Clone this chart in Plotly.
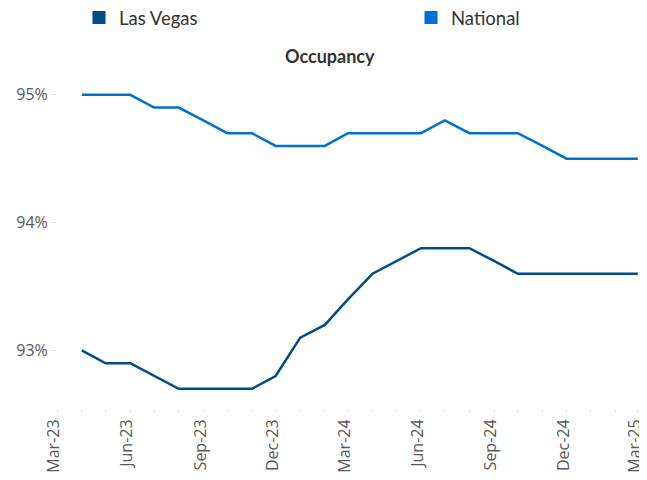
import plotly.graph_objects as go

months = ["2023-04-01", "2023-05-01", "2023-06-01", "2023-07-01", "2023-08-01", "2023-09-01",
          "2023-10-01", "2023-11-01", "2023-12-01", "2024-01-01", "2024-02-01", "2024-03-01",
          "2024-04-01", "2024-05-01", "2024-06-01", "2024-07-01", "2024-08-01", "2024-09-01",
          "2024-10-01", "2024-11-01", "2024-12-01", "2025-01-01", "2025-02-01", "2025-03-01"]
las_vegas = [93.0, 92.9, 92.9, 92.8, 92.7, 92.7, 92.7, 92.7, 92.8, 93.1, 93.2, 93.4,
             93.6, 93.7, 93.8, 93.8, 93.8, 93.7, 93.6, 93.6, 93.6, 93.6, 93.6, 93.6]
national = [95.0, 95.0, 95.0, 94.9, 94.9, 94.8, 94.7, 94.7, 94.6, 94.6, 94.6, 94.7,
            94.7, 94.7, 94.7, 94.8, 94.7, 94.7, 94.7, 94.6, 94.5, 94.5, 94.5, 94.5]
y_ticks = [93, 94, 95]
y_tick_labels = ["93%", "94%", "95%"]

C_LV = "#004C88"
C_NAT = "#0072CE"

# the page body adds an 8px margin, so the figure is drawn 8px in from the top-left
OFF = 8
W, H = 647 - OFF, 480 - 2 * OFF
L, R, T = 57 - OFF, 9, 82 - OFF
B = H - (408 - OFF)
PW, PH = W - L - R, H - T - B

def px_x(p):
    return (p - OFF - L) / PW

def px_y(p):
    return 1 + (T - (p - OFF)) / PH

fig = go.Figure()
fig.add_trace(go.Scatter(x=months, y=las_vegas, mode="lines", line=dict(color=C_LV, width=2.5),
                         showlegend=False, hoverinfo="skip"))
fig.add_trace(go.Scatter(x=months, y=national, mode="lines", line=dict(color=C_NAT, width=2.5),
                         showlegend=False, hoverinfo="skip"))
# legend entries (square swatches)
fig.add_trace(go.Scatter(x=[None], y=[None], mode="markers", name="Las Vegas", legend="legend",
                         marker=dict(symbol="square", size=13, color=C_LV)))
fig.add_trace(go.Scatter(x=[None], y=[None], mode="markers", name="National", legend="legend2",
                         marker=dict(symbol="square", size=13, color=C_NAT)))

leg_common = dict(orientation="h", xanchor="left", yanchor="middle",
                  font=dict(family="Lato", size=18.5, color="#333333"),
                  bgcolor="rgba(0,0,0,0)", borderwidth=0)

fig.update_layout(
    width=W, height=H,
    margin=dict(l=L, r=R, t=T, b=B, autoexpand=False),
    paper_bgcolor="white", plot_bgcolor="white",
    showlegend=True,
    legend=dict(x=px_x(79), y=px_y(18), **leg_common),
    legend2=dict(x=px_x(411), y=px_y(18), **leg_common),
    annotations=[dict(text="<b>Occupancy</b>", xref="paper", yref="paper",
                      x=px_x(330), y=px_y(56),
                      xanchor="center", yanchor="middle", showarrow=False,
                      font=dict(family="Lato", size=18, color="#333333"))],
)

fig.update_xaxes(
    type="date", range=["2023-02-28 18:00", "2025-03-01 06:00"],
    tick0="2023-03-01", dtick="M3", tickformat="%b-%y", tickangle=-90,
    tickfont=dict(family="Open Sans", size=16, color="#595959"),
    ticks="outside", ticklen=4, tickcolor="#e6e6e6",
    minor=dict(dtick="M1", ticks="outside", ticklen=4, tickcolor="#e6e6e6"),
    showgrid=False, showline=False, zeroline=False,
    automargin=False, ticklabeloverflow="allow", ticklabelshift=-3,
)
fig.update_yaxes(
    range=[92.55, 95.1], tickvals=y_ticks, ticktext=y_tick_labels,
    tickfont=dict(family="Open Sans", size=16, color="#595959"),
    ticks="outside", ticklen=5, tickcolor="#e6e6e6",
    showgrid=False, showline=False, zeroline=False,
    automargin=False,
)

fig.write_html("out.html")
